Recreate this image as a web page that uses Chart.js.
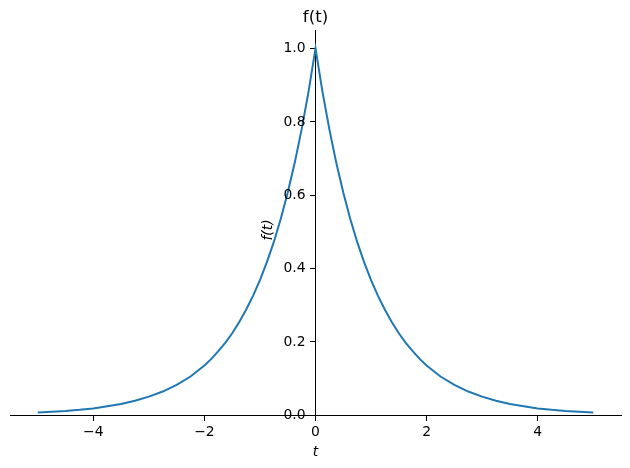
<!DOCTYPE html>
<html>
<head>
<meta charset="utf-8">
<script src="https://cdn.jsdelivr.net/npm/chart.js@4/dist/chart.umd.min.js"></script>
<style>
  html, body { margin: 0; padding: 0; background: #fff; }
  #wrap { width: 630px; height: 468px; position: relative; }
</style>
</head>
<body>
<div id="wrap"><canvas id="c"></canvas></div>
<script>
// Values
const tValues = [-5, -4.75, -4.5, -4.25, -4, -3.75, -3.5, -3.25, -3, -2.75, -2.5, -2.25,
                 -2, -1.875, -1.75, -1.625, -1.5, -1.375, -1.25, -1.125, -1, -0.875, -0.75, -0.625, -0.5, -0.375, -0.25, -0.125, 0,
                 0.125, 0.25, 0.375, 0.5, 0.625, 0.75, 0.875, 1, 1.125, 1.25, 1.375, 1.5, 1.625, 1.75, 1.875, 2,
                 2.25, 2.5, 2.75, 3, 3.25, 3.5, 3.75, 4, 4.25, 4.5, 4.75, 5];
const fValues = [0.007, 0.009, 0.011, 0.014, 0.018, 0.024, 0.030, 0.039, 0.050, 0.064, 0.082, 0.105,
                 0.135, 0.153, 0.174, 0.197, 0.223, 0.253, 0.287, 0.325, 0.368, 0.417, 0.472, 0.535, 0.607, 0.687, 0.779, 0.882, 1.000,
                 0.882, 0.779, 0.687, 0.607, 0.535, 0.472, 0.417, 0.368, 0.325, 0.287, 0.253, 0.223, 0.197, 0.174, 0.153, 0.135,
                 0.105, 0.082, 0.064, 0.050, 0.039, 0.030, 0.024, 0.018, 0.014, 0.011, 0.009, 0.007];
const xTicks = [-4, -2, 0, 2, 4];
const yTicks = [0.0, 0.2, 0.4, 0.6, 0.8, 1.0];
const titleText = 'f(t)';
const xLabel = 't';
const yLabel = 'f(t)';

const points = tValues.map((t, i) => ({ x: t, y: fValues[i] }));
const FONT = 'DejaVu Sans';

const textPlugin = {
  id: 'texts',
  afterDraw(chart) {
    const ctx = chart.ctx;
    const a = chart.chartArea;
    const cx = (a.left + a.right) / 2;
    const xs = chart.scales.x, ys = chart.scales.y;
    const axisX = xs.getPixelForValue(0);
    ctx.save();
    ctx.fillStyle = '#000';
    // y tick labels, placed through the y scale
    ctx.font = '13.9px "' + FONT + '"';
    ctx.textAlign = 'right';
    ctx.textBaseline = 'middle';
    yTicks.forEach(v => {
      ctx.fillText(v.toFixed(1), axisX - 10, ys.getPixelForValue(v) + 0.5);
    });
    ctx.textAlign = 'center';
    ctx.textBaseline = 'alphabetic';
    ctx.font = '16.67px "' + FONT + '"';
    ctx.fillText(titleText, cx, 21.5);
    ctx.font = 'oblique 13.9px "' + FONT + '"';
    ctx.fillText(xLabel, cx, 455.5);
    ctx.translate(268.5, 230);
    ctx.rotate(-Math.PI / 2);
    ctx.textBaseline = 'middle';
    ctx.fillText(yLabel, 0, 0);
    ctx.restore();
  }
};

const fmtMinus = v => (v < 0 ? '\u2212' + Math.abs(v) : String(v));

new Chart(document.getElementById('c'), {
  type: 'line',
  data: {
    datasets: [{
      data: points,
      borderColor: '#1f77b4',
      borderWidth: 2,
      pointRadius: 0,
      tension: 0,
      fill: false
    }]
  },
  options: {
    responsive: true,
    maintainAspectRatio: false,
    animation: false,
    layout: { padding: { left: 10, right: 9, top: 30, bottom: 53 } },
    plugins: { legend: { display: false }, title: { display: false }, tooltip: { enabled: false } },
    scales: {
      x: {
        type: 'linear',
        min: -5.5,
        max: 5.5,
        position: { y: 0 },
        afterBuildTicks: s => { s.ticks = xTicks.map(v => ({ value: v })); },
        ticks: {
          color: '#000',
          font: { family: FONT, size: 13.9 },
          padding: 4,
          maxRotation: 0,
          autoSkip: false,
          callback: v => fmtMinus(v)
        },
        grid: { display: true, drawOnChartArea: false, drawTicks: true, tickLength: 5, color: '#000', lineWidth: 1 },
        border: { display: true, color: '#000', width: 1 }
      },
      y: {
        type: 'linear',
        min: 0,
        max: 1.05,
        position: { x: 0 },
        afterBuildTicks: s => { s.ticks = yTicks.map(v => ({ value: v })); },
        ticks: {
          display: false
        },
        grid: { display: true, drawOnChartArea: false, drawTicks: true, tickLength: 5, color: '#000', lineWidth: 1 },
        border: { display: true, color: '#000', width: 1 }
      }
    }
  },
  plugins: [textPlugin]
});
</script>
</body>
</html>
